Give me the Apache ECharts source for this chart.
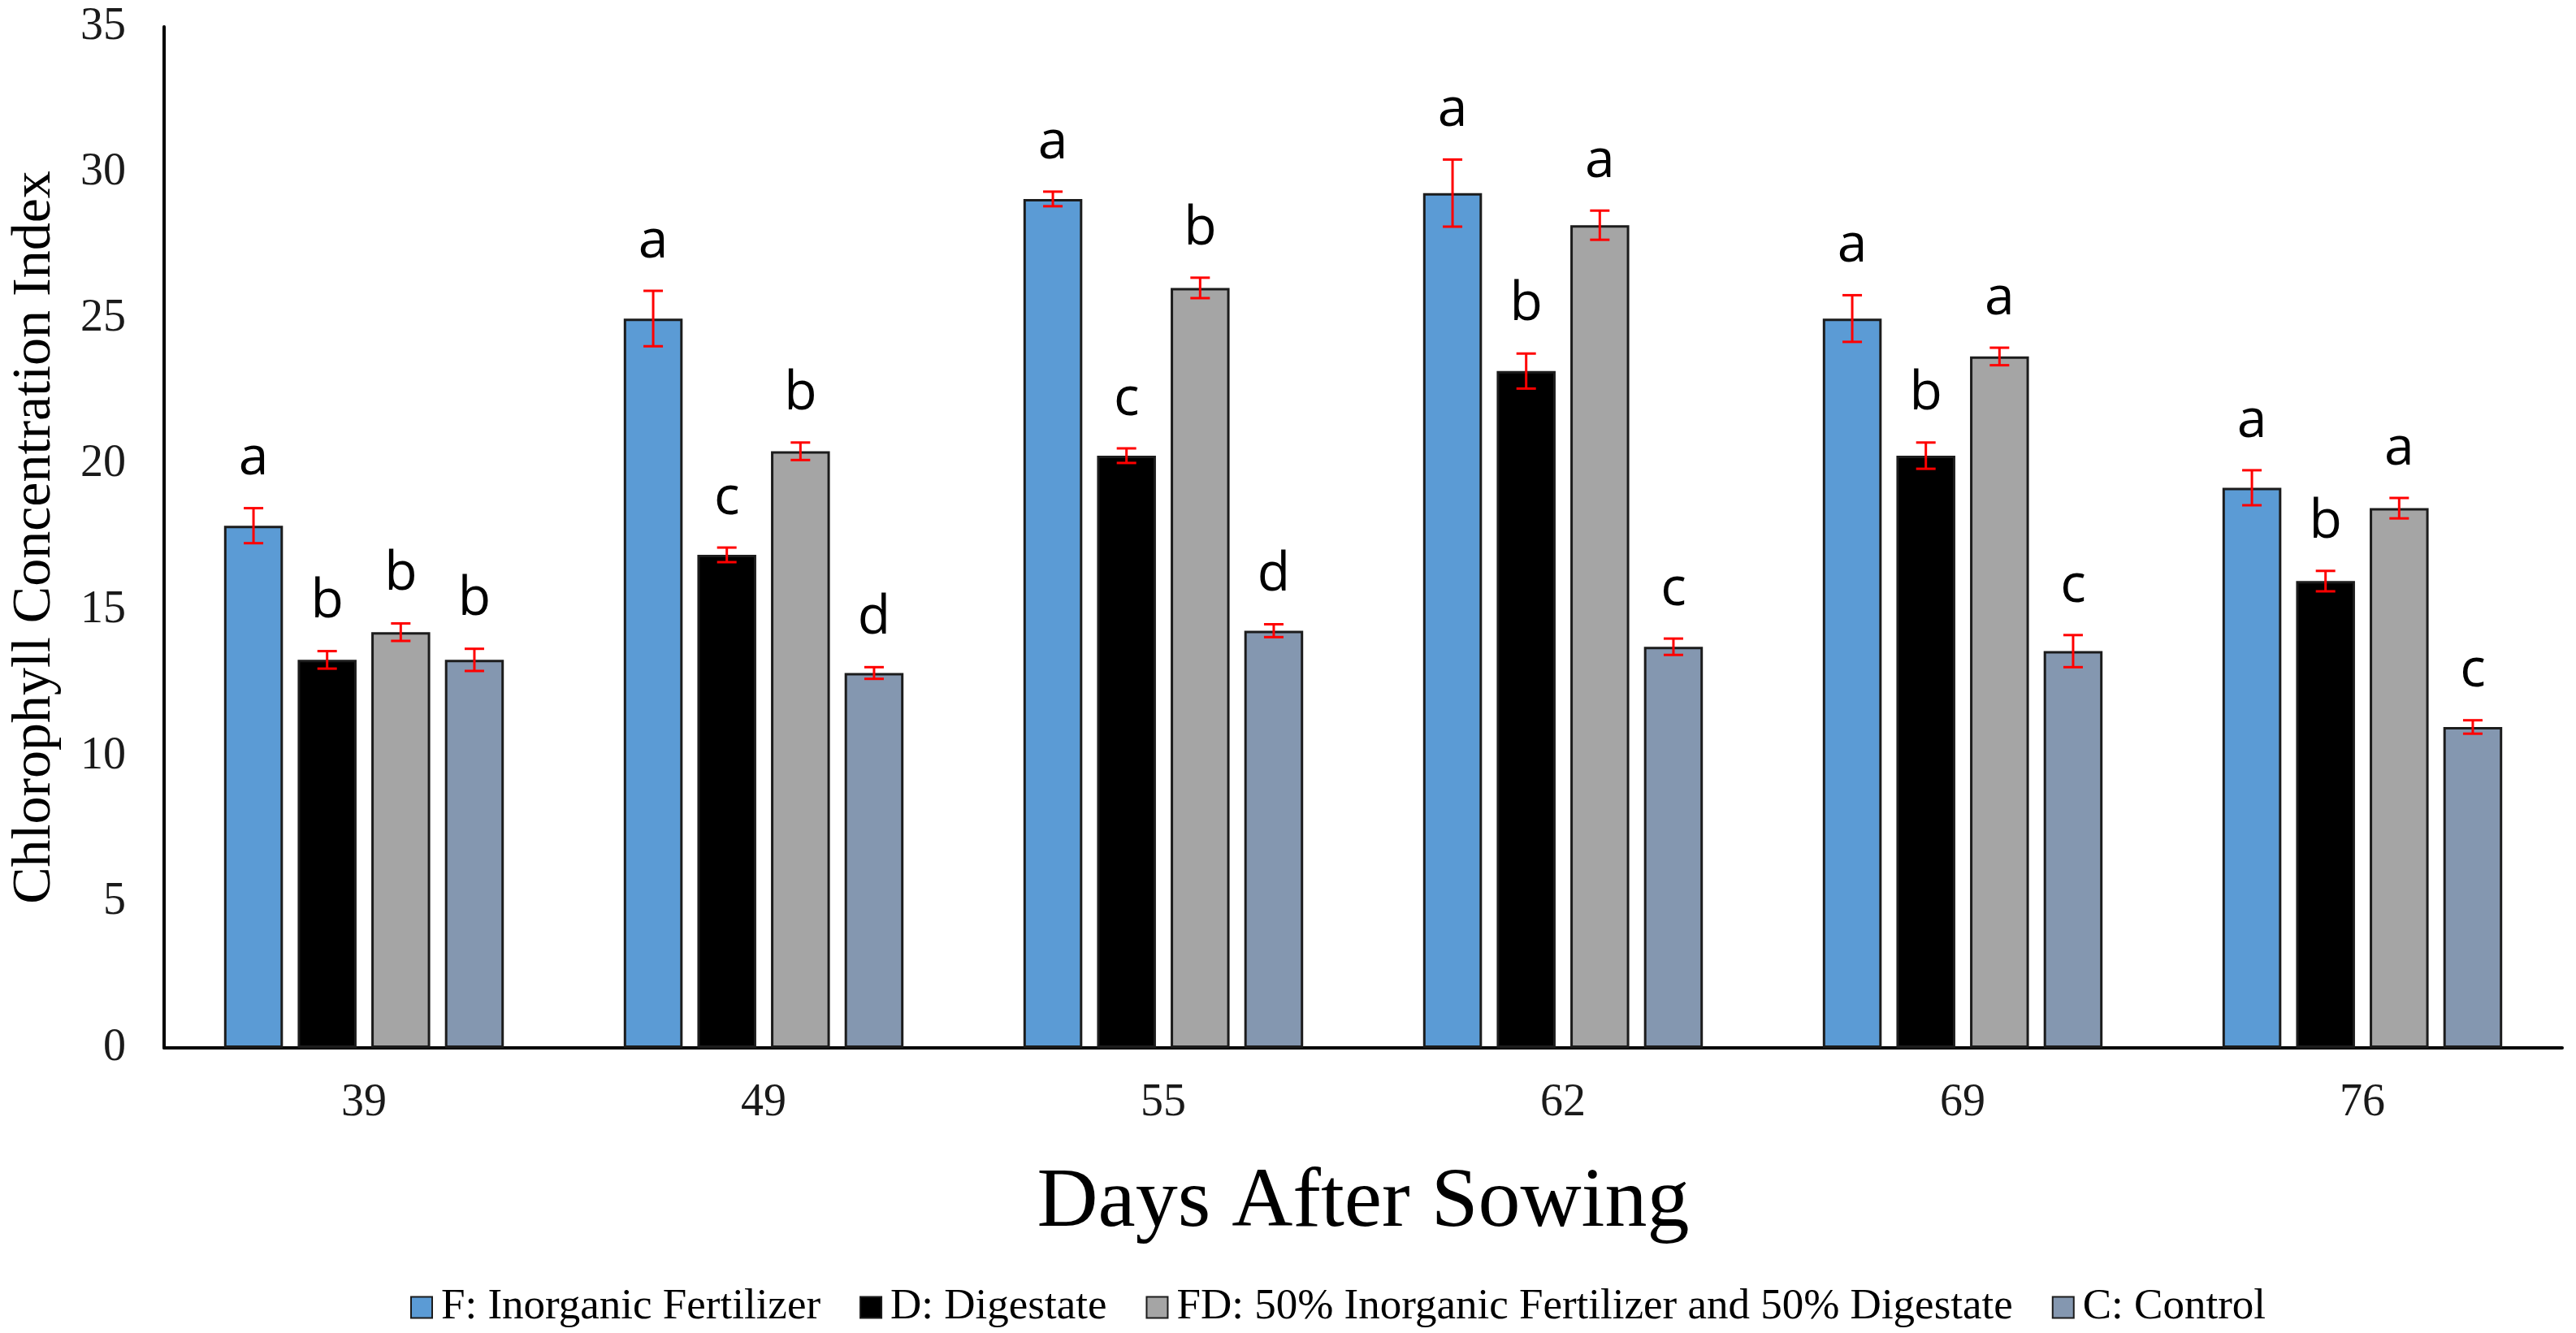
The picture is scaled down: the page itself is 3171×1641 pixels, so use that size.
<!DOCTYPE html>
<html>
<head>
<meta charset="utf-8">
<script src="https://cdn.jsdelivr.net/npm/echarts@6/dist/echarts.min.js"></script>
<style>
html,body{margin:0;padding:0;background:#fff;}
#chart{width:3171px;height:1641px;}
</style>
</head>
<body>
<div id="chart"></div>
<script>
// ---- data ----
const categories = ['39', '49', '55', '62', '69', '76'];
const seriesNames = ['F: Inorganic Fertilizer', 'D: Digestate', 'FD: 50% Inorganic Fertilizer and 50% Digestate', 'C: Control'];
const valF  = [17.9, 25.0, 29.1, 29.3, 25.0, 19.2];
const valD  = [13.3, 16.9, 20.3, 23.2, 20.3, 16.0];
const valFD = [14.25, 20.45, 26.05, 28.2, 23.7, 18.5];
const valC  = [13.3, 12.85, 14.3, 13.75, 13.6, 11.0];
const errF  = [0.6, 0.95, 0.25, 1.15, 0.8, 0.6];
const errD  = [0.3, 0.25, 0.25, 0.6, 0.45, 0.35];
const errFD = [0.3, 0.3, 0.35, 0.5, 0.3, 0.35];
const errC  = [0.38, 0.2, 0.22, 0.28, 0.55, 0.23];
const letF  = ['a', 'a', 'a', 'a', 'a', 'a'];
const letD  = ['b', 'c', 'c', 'b', 'b', 'b'];
const letFD = ['b', 'b', 'b', 'a', 'a', 'a'];
const letC  = ['b', 'd', 'd', 'c', 'c', 'c'];
const yTicks = [0, 5, 10, 15, 20, 25, 30, 35];

const colors = ['#5B9BD5', '#000000', '#A5A5A5', '#8497B0'];
const values = [valF, valD, valFD, valC];
const errors = [errF, errD, errFD, errC];
const letters = [letF, letD, letFD, letC];

const CAT_GAP = 0.30, BAR_GAP = 0.25, NS = 4;

const chart = echarts.init(document.getElementById('chart'), null, {renderer: 'canvas'});

const barSeries = values.map((v, i) => ({
  name: seriesNames[i],
  type: 'bar',
  data: v,
  barCategoryGap: '30%',
  barGap: '25%',
  itemStyle: {color: colors[i], borderColor: '#1c1c1c', borderWidth: 3},
  silent: true,
  z: 2
}));

const errSeries = values.map((v, i) => ({
  name: 'err' + i,
  type: 'custom',
  data: v.map((val, k) => [k, val, errors[i][k], letters[i][k]]),
  z: 5,
  silent: true,
  renderItem: function (params, api) {
    const k = api.value(0);
    const val = api.value(1);
    const e = api.value(2);
    const band = api.size([1, 0])[0];
    const bw = band * (1 - CAT_GAP) / (NS + (NS - 1) * BAR_GAP);
    const total = NS * bw + (NS - 1) * bw * BAR_GAP;
    const off = -total / 2 + bw / 2 + i * bw * (1 + BAR_GAP);
    const top = api.coord([k, val + e]);
    const bot = api.coord([k, val - e]);
    const x = top[0] + off;
    const cap = 12;
    const st = {stroke: '#FF0000', lineWidth: 3};
    return {
      type: 'group',
      children: [
        {type: 'line', shape: {x1: x, y1: top[1], x2: x, y2: bot[1]}, style: st},
        {type: 'line', shape: {x1: x - cap, y1: top[1], x2: x + cap, y2: top[1]}, style: st},
        {type: 'line', shape: {x1: x - cap, y1: bot[1], x2: x + cap, y2: bot[1]}, style: st},
        {type: 'text', x: x, y: top[1] - 60,
         style: {text: letters[i][k], fill: '#000', font: '66px "Open Sans"', align: 'center', verticalAlign: 'middle'}}
      ]
    };
  }
}));

const option = {
  animation: false,
  backgroundColor: '#ffffff',
  grid: {left: 202, right: 17, top: 33, bottom: 351, containLabel: false},
  legend: {
    data: seriesNames,
    top: 1578,
    left: 500,
    icon: 'rect',
    itemWidth: 26,
    itemHeight: 26,
    itemGap: 48,
    textStyle: {fontFamily: 'Liberation Serif', fontSize: 53, color: '#000', padding: [0, 0, 0, 6]}
  },
  xAxis: {
    type: 'category',
    data: categories,
    name: 'Days After Sowing',
    nameLocation: 'middle',
    nameGap: 140,
    nameTextStyle: {fontFamily: 'Liberation Serif', fontSize: 104, color: '#000'},
    axisLine: {lineStyle: {color: '#000', width: 4}},
    axisTick: {show: false},
    axisLabel: {fontFamily: 'Liberation Serif', fontSize: 56, color: '#1a1a1a', margin: 40}
  },
  yAxis: {
    type: 'value',
    min: yTicks[0],
    max: yTicks[yTicks.length - 1],
    interval: 5,
    name: 'Chlorophyll Concentration Index',
    nameLocation: 'middle',
    nameGap: 125,
    nameTextStyle: {fontFamily: 'Liberation Serif', fontSize: 68, color: '#000'},
    axisLine: {show: true, lineStyle: {color: '#000', width: 4}},
    axisTick: {show: false},
    splitLine: {show: false},
    axisLabel: {fontFamily: 'Liberation Serif', fontSize: 56, color: '#1a1a1a', margin: 47}
  },
  series: barSeries.concat(errSeries)
};
chart.setOption(option);
</script>
</body>
</html>
